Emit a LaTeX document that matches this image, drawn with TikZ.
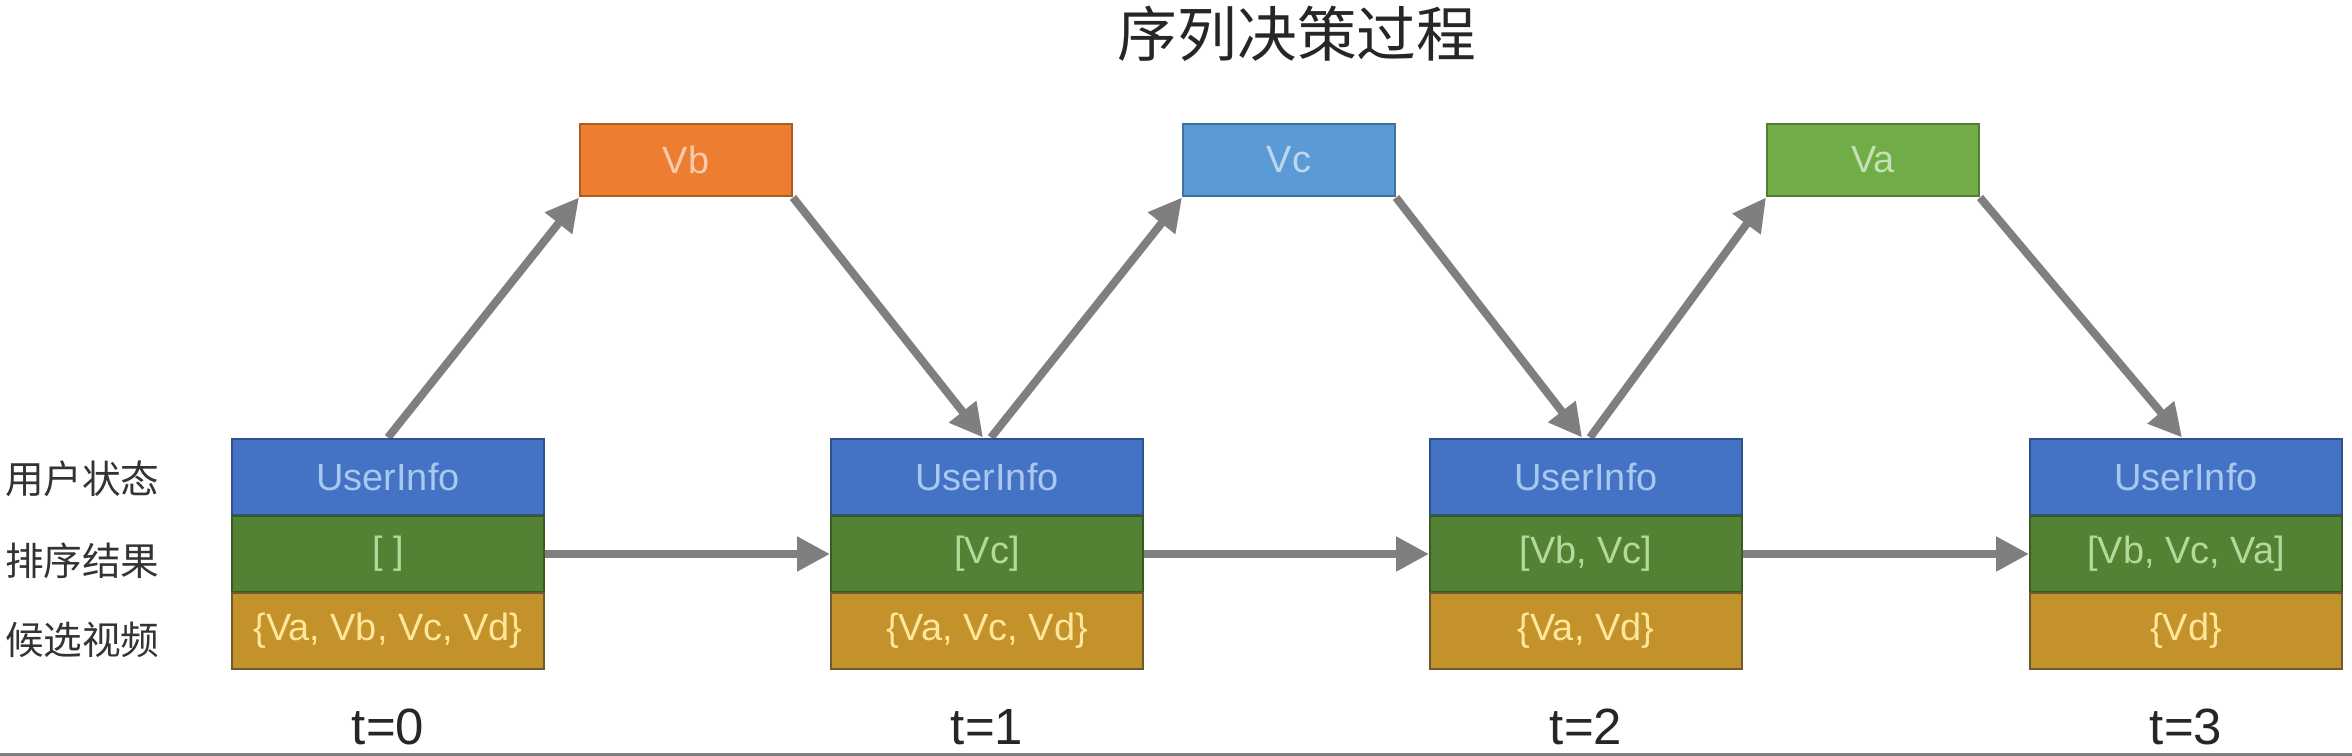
\documentclass[tikz,border=0pt]{standalone}
\usepackage{fontspec}
\setmainfont{Liberation Sans}
\newfontfamily\cjk{Noto Sans CJK SC}
\usetikzlibrary{arrows.meta,backgrounds}
\definecolor{ublue}{HTML}{4472C4}
\definecolor{ubluedk}{HTML}{2F528F}
\definecolor{ubluetx}{HTML}{A9C8EE}
\definecolor{rgreen}{HTML}{548235}
\definecolor{rgreendk}{HTML}{3A5A24}
\definecolor{rgreentx}{HTML}{B4D99A}
\definecolor{cgold}{HTML}{C4922A}
\definecolor{cgolddk}{HTML}{6E5A30}
\definecolor{cgoldtx}{HTML}{FFE699}
\definecolor{vorange}{HTML}{ED7D31}
\definecolor{vorangedk}{HTML}{AE5A21}
\definecolor{vorangetx}{HTML}{F8CBAD}
\definecolor{vblue}{HTML}{5B9BD5}
\definecolor{vbluedk}{HTML}{41719C}
\definecolor{vbluetx}{HTML}{BDD7EE}
\definecolor{vgreen}{HTML}{70AD47}
\definecolor{vgreendk}{HTML}{507E32}
\definecolor{vgreentx}{HTML}{C5E0B4}
\definecolor{arrgray}{HTML}{7F7F7F}
\definecolor{labgray}{HTML}{333333}
\begin{document}
\begin{tikzpicture}[x=0.02cm,y=-0.02cm,
  band/.style={rectangle, minimum width=6.24cm, minimum height=1.54cm, inner sep=0pt,
    line width=0.04cm, font=\fontsize{21.6}{24}\selectfont},
  uband/.style={band, fill=ublue, draw=ubluedk, text=ubluetx},
  rband/.style={band, fill=rgreen, draw=rgreendk, text=rgreentx},
  cband/.style={band, fill=cgold, draw=cgolddk, text=cgoldtx},
  vbox/.style={rectangle, minimum width=4.24cm, minimum height=1.46cm, inner sep=0pt,
    line width=0.04cm, font=\fontsize{21.6}{24}\selectfont},
  arr/.style={draw=arrgray, line width=0.16cm, -{Triangle[length=0.66cm,width=0.66cm]}},
  lab/.style={font=\cjk\fontsize{22}{24}\selectfont, text=labgray, anchor=east, inner sep=0pt},
  tlab/.style={font=\fontsize{29}{32}\selectfont, text=black!85, anchor=base, inner sep=0pt}
]
\useasboundingbox (0,0) rectangle (2352,756);

% title
\node[font=\cjk\fontsize{34}{36}\selectfont, text=black!85, inner sep=0pt] (title) at (1297,34) {序列决策过程};

% left labels
\node[lab] (lu) at (160,479) {用户状态};
\node[lab] (lr) at (160,561) {排序结果};
\node[lab] (lc) at (160,640) {候选视频};

% state boxes
\node[uband] (u0) at (388,477) {UserInfo};
\node[rband] (r0) at (388,554) {[ ]};
\node[cband] (c0) at (388,631) {\{Va, Vb, Vc, Vd\}};

\node[uband] (u1) at (987,477) {UserInfo};
\node[rband] (r1) at (987,554) {[Vc]};
\node[cband] (c1) at (987,631) {\{Va, Vc, Vd\}};

\node[uband] (u2) at (1586,477) {UserInfo};
\node[rband] (r2) at (1586,554) {[Vb, Vc]};
\node[cband] (c2) at (1586,631) {\{Va, Vd\}};

\node[uband] (u3) at (2186,477) {UserInfo};
\node[rband] (r3) at (2186,554) {[Vb, Vc, Va]};
\node[cband] (c3) at (2186,631) {\{Vd\}};

% chosen items
\node[vbox, fill=vorange, draw=vorangedk, text=vorangetx] (vb) at (686,160) {Vb};
\node[vbox, fill=vblue, draw=vbluedk, text=vbluetx] (vc) at (1289,160) {Vc};
\node[vbox, fill=vgreen, draw=vgreendk, text=vgreentx] (va) at (1873,160) {Va};

% time labels
\node[tlab] (t0) at (388,744) {t=0};
\node[tlab] (t1) at (987,744) {t=1};
\node[tlab] (t2) at (1586,744) {t=2};
\node[tlab] (t3) at (2186,744) {t=3};

\begin{scope}[on background layer]
\fill[white] (0,0) rectangle (2352,756);
\draw[arrgray, line width=0.06cm] (0,754.5) -- (2352,754.5);
\draw[arr] (u0.north) -- (vb.south west);
\draw[arr] (vb.south east) -- ([xshift=-0.08cm]u1.north);
\draw[arr] ([xshift=0.08cm]u1.north) -- (vc.south west);
\draw[arr] (vc.south east) -- ([xshift=-0.08cm]u2.north);
\draw[arr] ([xshift=0.08cm]u2.north) -- (va.south west);
\draw[arr] (va.south east) -- ([xshift=-0.08cm]u3.north);
\draw[arr] (r0.east) -- (r1.west);
\draw[arr] (r1.east) -- (r2.west);
\draw[arr] (r2.east) -- (r3.west);
\end{scope}
\end{tikzpicture}
\end{document}
